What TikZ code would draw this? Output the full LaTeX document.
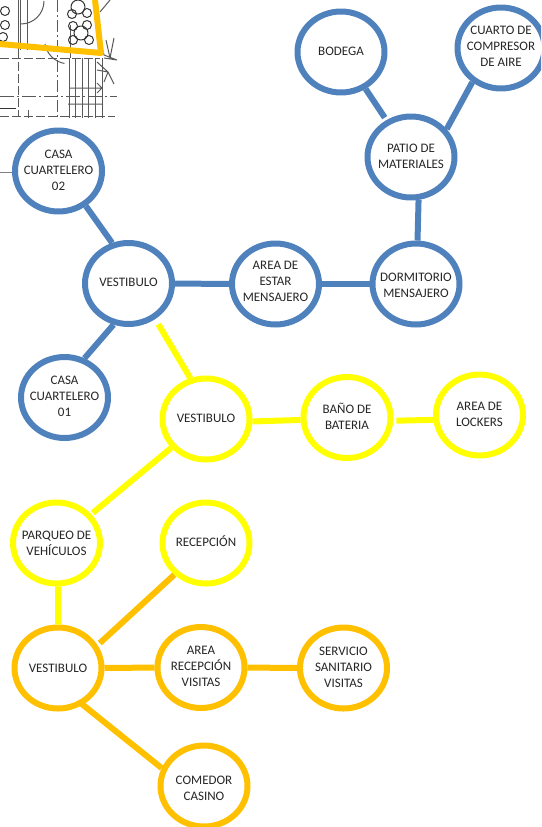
\documentclass[tikz,border=0pt]{standalone}
\usepackage{fontspec}
\setmainfont{Carlito}
\usetikzlibrary{shapes.geometric}
\definecolor{azul}{HTML}{4F81BD}
\definecolor{amarillo}{HTML}{FFFF00}
\definecolor{naranja}{HTML}{FFC000}
\tikzset{
	sala/.style={ellipse,draw=#1,fill=white,line width=6pt,minimum width=87pt,minimum height=81pt,inner sep=0pt},
	rotulo/.style={align=center,inner sep=0pt,yshift=#1,font=\fontsize{13}{16}\selectfont,text=black!85},
	enlace/.style={draw=#1,line width=6pt},
	plano/.style={black!65,line width=1pt},
	eje/.style={black!65,line width=1pt,dash pattern=on 9pt off 3pt}
}
\begin{document}
\begin{tikzpicture}[x=1pt,y=-1pt,line join=round]
	\useasboundingbox (0,0) rectangle (541,827);
	\clip (0,0) rectangle (541,827);
	% plano de fondo
	\foreach \x in {69,75,82,88,95,102} \draw[plano] (\x,58)--(\x,118);
	\foreach \x in {18,20,27} \draw[plano] (\x,0)--(\x,50);
	\draw[plano] (70,25)--(70,58) (28,110)--(28,118);
	\draw[eje] (18,50)--(18,116);
	\draw[eje,dash pattern=on 12pt off 3pt on 2pt off 3pt] (57,0)--(57,118);
	\draw[eje] (0,58)--(100,58);
	\draw[eje,dash pattern=on 14pt off 3pt on 2pt off 3pt] (0,96)--(117,96);
	\draw[eje] (0,116)--(115,116);
	\draw[plano] (69,88)--(102,88) (97,83)--(102,88)--(97,93) (68,104)--(103,104);
	\draw[plano] (21,24) arc (90:0:23);
	\draw[plano] (45,44) arc (170:100:24);
	\draw[plano,black!80] (0,108)--(16,108);
	\foreach \x/\y in {78/7,81/33} \draw[plano,black!80] (\x,\y) circle (7pt);
	\foreach \x/\y in {72/14,87/13,73/26,87/25,73/40,89/40,5/11,5/25,3/37} \draw[plano,black!80] (\x,\y) circle (4.5pt);
	\draw[plano] (100,12)--(110,0) (100,40)--(104,55)--(117,60) (97,62)--(108,72)--(104,82) (104,58)--(117,60) (108,72)--(114,84) (97,70)--(108,72) (106,40)--(110,58)--(114,38);
	\draw[naranja,line width=6pt] (0,44)--(101,53)--(95,0);
	\draw[black!50,line width=1pt] (0,172)--(13,172);
	% texto inferior
	\node[anchor=base west,inner sep=0pt,font=\fontsize{20}{20}\selectfont,text=black!85] (pie) at (-2,840) {AREA PRIVADA};
	% salas
	\foreach \n/\x/\y/\c/\d/\t in {
		bod/341/52/azul/.5/{BODEGA},
		cua/501/48/azul/1.5/{CUARTO DE\\COMPRESOR\\DE AIRE},
		pat/411/157/azul/.5/{PATIO DE\\MATERIALES},
		dor/416/284/azul/-1.5/{DORMITORIO\\MENSAJERO},
		est/275.5/284/azul/2.5/{AREA DE\\ESTAR\\MENSAJERO},
		va/128.5/283.5/azul/1.5/{VESTIBULO},
		cdos/58.5/171/azul/.5/{CASA\\CUARTELERO\\02},
		cuno/64.5/397.5/azul/1.5/{CASA\\CUARTELERO\\01},
		vb/206/419/amarillo/.5/{VESTIBULO},
		ban/347/417.5/amarillo/1.5/{BAÑO DE\\BATERIA},
		loc/479.5/415/amarillo/.5/{AREA DE\\LOCKERS},
		par/56.5/543/amarillo/-.5/{PARQUEO DE\\VEHÍCULOS},
		rec/206/543/amarillo/1.5/{RECEPCIÓN},
		vc/58/668/naranja/-.5/{VESTIBULO},
		are/201/667.5/naranja/1.5/{AREA\\RECEPCIÓN\\VISITAS},
		ser/343.5/668/naranja/.5/{SERVICIO\\SANITARIO\\VISITAS},
		com/204/786/naranja/-2.5/{COMEDOR\\CASINO}}
	\node[sala=\c,label={[rotulo=\d pt]center:\t}] (\n) at (\x,\y) {};
	% enlaces
	\foreach \a/\b/\c/\s/\e in {
		bod/pat/azul/0/3,
		cua.230/pat.38/azul/0/0,
		pat.-80/dor.88/azul/0/0,
		dor/est/azul/0/0,
		est/va/azul/0/0,
		va.112/cdos.-52/azul/0/0,
		va.-110/cuno.63/azul/0/0,
		va.-53/vb.111/amarillo/6/0,
		vb.-3/ban.183/amarillo/0/0,
		ban.-4/loc.186/amarillo/3/0,
		vb/par/amarillo/0/2,
		par.-88/vc.90/amarillo/0/0,
		vc.30/rec.225/naranja/3/0,
		vc/are/naranja/0/0,
		are/ser/naranja/0/0,
		vc.-56/com.157/naranja/-3/0}
	\draw[enlace=\c,shorten <=\s pt,shorten >=\e pt] (\a)--(\b);
\end{tikzpicture}
\end{document}
